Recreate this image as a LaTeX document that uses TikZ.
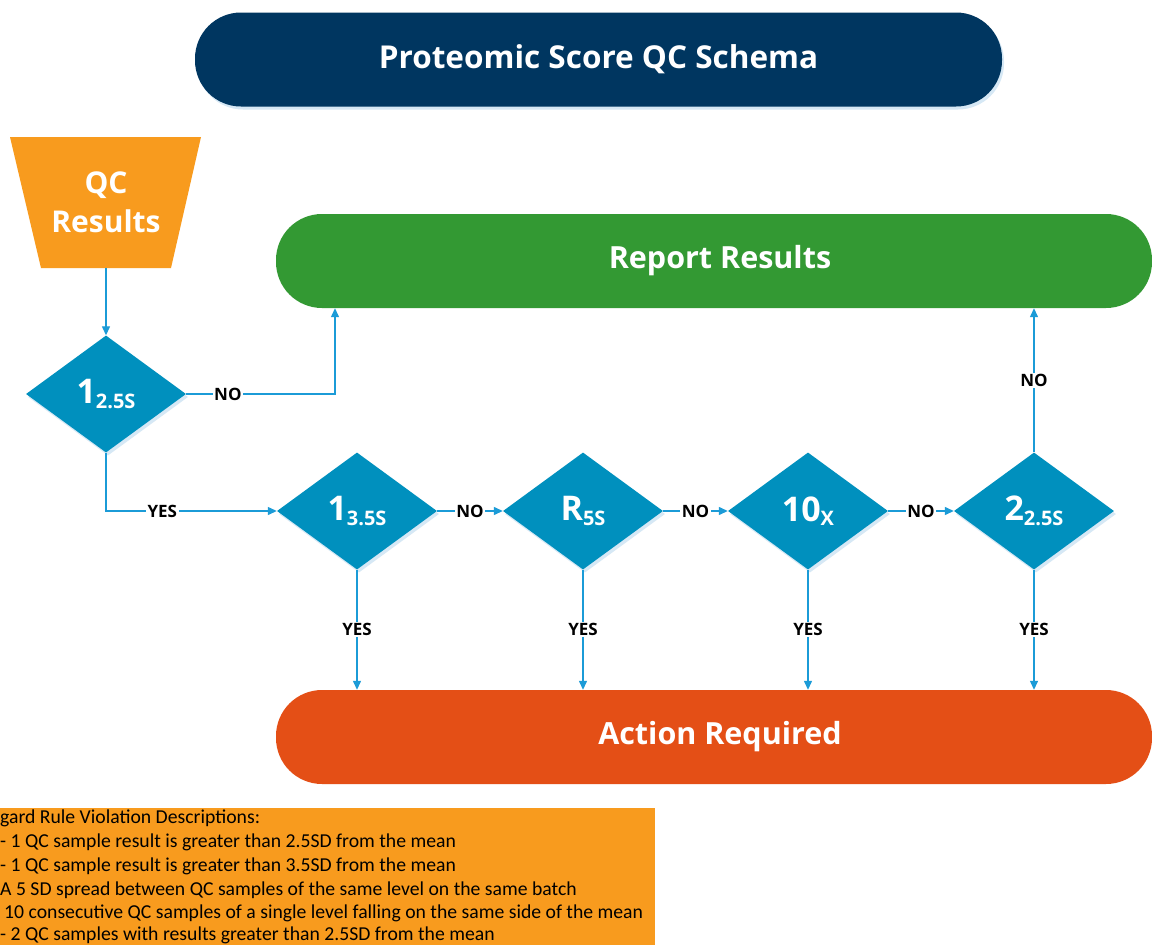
\documentclass[tikz,border=0pt]{standalone}
\usepackage{fontspec}
\setmainfont{Open Sans}
\newfontfamily\notefont{Carlito}
\usetikzlibrary{arrows.meta,shapes.geometric,shadows}

\definecolor{titleblue}{RGB}{0,54,96}
\definecolor{qcorange}{RGB}{248,155,30}
\definecolor{okgreen}{RGB}{51,153,51}
\definecolor{actred}{RGB}{228,79,22}
\definecolor{rulecyan}{RGB}{0,144,190}
\definecolor{linkblue}{RGB}{27,155,215}
\definecolor{shadeblue}{RGB}{214,232,245}

\tikzset{
  banner/.style={rectangle, rounded corners=46pt, minimum height=94pt,
    text=white, font=\bfseries\fontsize{30.5}{36}\selectfont, inner sep=0pt},
  rule/.style={diamond, fill=rulecyan, text=white, inner sep=0pt, aspect=1.37,
    minimum width=160pt, minimum height=117pt,
    drop shadow={fill=shadeblue, opacity=1, shadow xshift=2pt, shadow yshift=-3pt}},
  conn/.style={draw=linkblue, line width=1.3pt,
    -{Triangle[length=9pt,width=8pt]}},
  lbl/.style={fill=white, inner sep=1.5pt, text=black,
    font=\bfseries\fontsize{17}{20}\selectfont},
  noteline/.style={anchor=base west, inner sep=0pt, text=black,
    font=\notefont\fontsize{19.7}{23}\selectfont},
}
% rule symbol: large digit with a lowered subscript
\newcommand{\rulesym}[2]{{\bfseries\fontsize{34}{38}\selectfont #1}%
  \raisebox{-4.5pt}{\bfseries\fontsize{20}{22}\selectfont #2}}

\begin{document}
\begin{tikzpicture}[x=1pt,y=-1pt]
\useasboundingbox (0,0) rectangle (1152,945);
\clip (0,0) rectangle (1152,945);
\fill[white] (0,0) rectangle (1152,945);

% title banner
\node[banner, fill=titleblue, minimum width=807pt,
  font=\bfseries\fontsize{31.5}{36}\selectfont,
  drop shadow={fill=shadeblue, opacity=1, shadow xshift=2pt, shadow yshift=-3pt}]
  (title) at (598.5,59.5) {Proteomic Score QC Schema};

% QC results input (trapezoid)
\fill[qcorange] (10,137) -- (201,137) -- (171,268) -- (41,268) -- cycle;
\node[text=white, align=center, minimum height=131pt, inner sep=0pt,
  font=\bfseries\fontsize{30}{39}\selectfont] (qc) at (106,202.5) {QC\\Results};

% outcome banners (text set a little right of the shape's centre)
\node[banner, fill=okgreen, minimum width=876pt] (report) at (714,261)
  {\hspace{12pt}Report Results};
\node[banner, fill=actred, minimum width=876pt] (action) at (714,737)
  {\hspace{12pt}Action Required};

% rule decisions
\node[rule] (d1) at (106,394) {\rulesym{1}{2.5S}};
\node[rule] (d2) at (357,511) {\rulesym{1}{3.5S}};
\node[rule] (d3) at (583,511) {\rulesym{R}{5S}};
\node[rule] (d4) at (808,511) {\rulesym{10}{X}};
\node[rule] (d5) at (1034,511) {\rulesym{2}{2.5S}};

\coordinate (nojoin) at (335,394);

% connectors
\draw[conn] (qc.south) -- (d1.north);
\draw[conn] (d1.east) -| node[lbl, pos=0.14] {NO} (report.south -| nojoin);
\draw[conn] (d1.south) |- node[lbl, pos=0.665] {YES} (d2.west);
\draw[conn] (d2.east) -- node[lbl] {NO} (d3.west);
\draw[conn] (d3.east) -- node[lbl] {NO} (d4.west);
\draw[conn] (d4.east) -- node[lbl] {NO} (d5.west);
\draw[conn] (d5.north) -- node[lbl] {NO} (d5.north |- report.south);
\foreach \d in {d2,d3,d4,d5}
  \draw[conn] (\d.south) -- node[lbl] {YES} (\d.south |- action.north);

% rule descriptions
\fill[qcorange] (0,808) rectangle (655,945);
\node[noteline] (n0) at (0,823) {gard Rule Violation Descriptions:};
\node[noteline] (n1) at (0,847) {- 1 QC sample result is greater than 2.5SD from the mean};
\node[noteline] (n2) at (0,871) {- 1 QC sample result is greater than 3.5SD from the mean};
\node[noteline] (n3) at (0,895) {A 5 SD spread between QC samples of the same level on the same batch};
\node[noteline] (n4) at (4,918) {10 consecutive QC samples of a single level falling on the same side of the mean};
\node[noteline] (n5) at (0,940) {- 2 QC samples with results greater than 2.5SD from the mean};
\end{tikzpicture}
\end{document}
